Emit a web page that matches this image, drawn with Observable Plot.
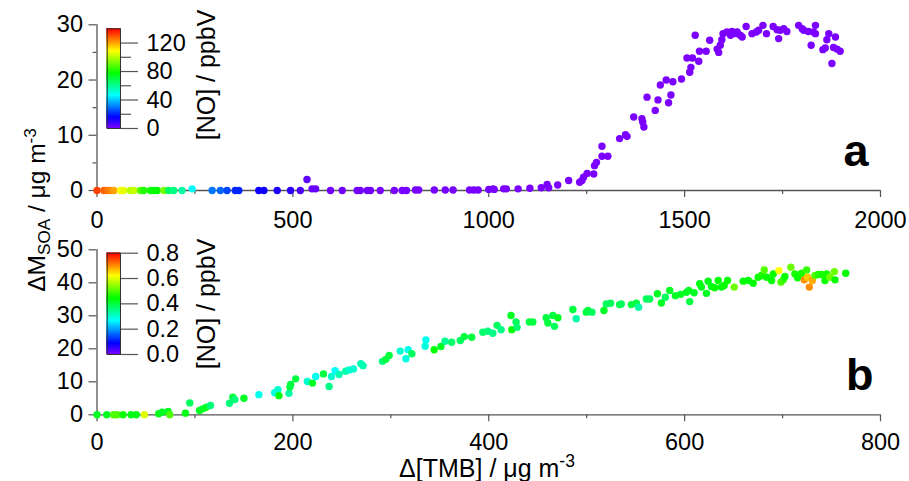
<!DOCTYPE html>
<html><head><meta charset="utf-8">
<script src="https://cdn.jsdelivr.net/npm/d3@7"></script>
<script src="https://cdn.jsdelivr.net/npm/@observablehq/plot@0.6"></script>
<style>
body{margin:0;background:#fff;}
#wrap{position:relative;width:909px;height:481px;font-family:"Liberation Sans",Arial,sans-serif;color:#000;overflow:hidden;background:#fff}
#wrap svg{position:absolute;left:0;top:0}
.lab{position:absolute;white-space:nowrap;font-size:25px;line-height:0.9;transform-origin:center center}
.sub{position:relative;top:0.28em;font-size:0.7em}
.sup{position:relative;top:-0.55em;font-size:0.7em}
</style></head><body><div id="wrap"></div>
<script>
// ---------- Panel a data ----------
const tmbA = [0,17.5,26,34.5,43,60,68,85.5,94,111,119.5,136.5,145,153.6,170.6,183,196,217,243,294,315,332,353,362,413,426,460,494,519,536,549,558,
596,626,664,672,690,698,723,759,779,790,813,821,861,889,909,951,962,973,1000,1011,1014,1038,1045,1075,1105,1134,1149,1153,1176,1204,1232,1238,1242,1251,1268,1270,1275,1289,1289,1304,1334,1349,1353,1370,1391,1393,1396,1404,1425,1432,1438,1453,1459,1465,1470,1492,1506,1513,1516,1520,1527,1536,1538,1555,1564,1583,1587,1591,1595,1598,1608,1617,1621,1629,1634,1642,1647,1657,1672,1683,1689,1700,1709,1726,1736,1740,1744,1753,1761,1791,1800,1804,1816,1823,1829,1834,1834,1853,1859,1863,1868,1876,1880,1885,1889,1897];
const soaA = [0,0,0,0,0,0,0,0,0,0,0,0,0,0,0,0,0,0,0.3,0,0,0,0,0,0,0,0,0,0,2.0,0.3,0.3,
0,0,0,0,0,0,0,0,0,0,0.1,0.1,0.1,0.1,0.1,0.1,0.1,0.1,0.2,0.3,0.2,0.3,0.3,0.3,0.4,0.5,1.1,0.5,1.0,1.8,1.5,1.8,2.4,3.1,3.0,4.5,5.1,8.0,6.2,6.2,9.4,10.1,9.8,13.3,13.0,12.4,11.5,16.9,14.5,16.4,19.1,20.0,15.9,17.3,19.7,20.2,24.0,21.4,22.3,24.0,28.1,23.4,25.2,25.2,27.2,25.6,25.0,26.3,27.3,28.4,28.7,28.1,28.8,28.4,28.7,28.1,27.8,29.7,28.4,28.7,29.0,29.9,28.4,29.7,29.1,27.5,29.0,29.3,28.8,29.9,29.3,29.0,28.8,26.3,28.7,29.9,28.4,25.5,25.8,27.3,28.4,23.0,25.9,27.8,25.6,25.2];
const noA = [132,128,126,124,120,108,106,100,102,88,82,80,78,78,92,66,62,58,47,30,28,24,20,20,14,14,12,10,6,4,3,3,
1.5,1.5,1.5,1.5,1.5,1.5,1,1,1,1,1,1,1,1,1,1,1,1,1,0.5,0.5,0.5,0.5,0.5,0.5,0.5,0.5,0.5,0.5,0.5,0.5,0.5,0.5,0.5,0.5,0.5,0.5,0.5,0.5,0.5,0.5,0.5,0.5,0.5,0.5,0.5,0.5,0.5,0.5,0.5,0.5,0.5,0.5,0.5,0.5,0.5,0.5,0.5,0.5,0.5,0.5,0.5,0.5,0.5,0.5,0.5,0.5,0.5,0.5,0.5,0.5,0.5,0.5,0.5,0.5,0.5,0.5,0.5,0.5,0.5,0.5,0.5,0.5,0.5,0.5,0.5,0.5,0.5,0.5,0.5,0.5,0.5,0.5,0.5,0.5,0.5,0.5,0.5,0.5,0.5,0.5,0.5,0.5,0.5,0.5,0.5];

// ---------- Panel b data ----------
const tmbB = [0,10,17,20.5,26.6,34.8,40.2,48.4,63,66.5,72.6,74.3,90.3,94.7,104.7,108,111.5,115.9,135.3,138.7,140.8,150,165.3,181.4,184.8,185.8,196,197.7,197,202.9,214.8,220,223.3,231.2,237,239.4,243.1,247.2,254,257.4,261.9,269.4,271.7,291.5,294.9,298.3,309.6,315.4,317.7,321.5,335.8,335.1,344.3,351.2,355.3,362.1,370.9,375,382.6,393.9,399,404.1,408.5,412.6,422.8,423.5,427.9,428.9,441.5,445,458.6,460.4,465.5,467.1,470.6,485.9,489.3,499.5,501.3,505.4,517.6,520,524.4,533.6,535.3,545.6,550.7,553,560.9,564.3,572.2,576.3,580.3,584.8,590.6,596,601.8,604.2,605.2,609.7,615.4,617.2,622.3,624,627.4,630.8,634.3,637.6,640.4,643.8,650.6,659.8,665,670,675.2,678.6,681.3,683.7,688.8,690.5,696.3,698.3,700.7,702.4,708.5,712.6,715.4,719.5,722.2,724.6,725.6,727.3,730.4,733.1,736.6,739.9,743.3,745.1,748.4,752.9,753.6,764.5];
const soaB = [0,0,0,0,0,0,0,0,0.3,0.8,1.0,0,0.5,3.6,1.3,1.8,2.3,2.8,3.5,5.3,4.6,5.0,6.1,6.7,7.6,5.8,6.5,9.2,8.4,10.9,10.1,9.6,11.6,12.4,8.6,11.6,13.4,12.2,13.2,13.6,13.9,15.5,14.9,16.2,16.8,18.0,19.3,17.0,19.7,18.5,22.7,20.8,19.7,20.7,22.3,22.0,22.5,23.7,23.5,25.0,25.3,24.7,27.1,25.8,30.1,25.8,28.1,26.5,28.1,28.1,29.4,27.8,30.1,26.8,29.4,31.9,29.1,31.1,31.6,31.1,31.6,33.6,33.8,33.4,33.6,33.4,33.8,32.6,35.1,35.1,36.7,33.9,35.6,37.7,36.1,36.5,37.1,37.7,34.3,37.0,39.7,38.7,36.8,40.5,38.9,38.5,40.7,38.7,39.2,40.7,38.7,40.5,40.7,39.9,41.7,42.2,43.9,41.7,40.7,42.7,43.7,40.2,40.9,41.9,44.7,42.7,41.5,42.9,40.9,43.9,41.7,38.7,40.7,42.2,42.5,42.5,40.7,42.7,41.7,43.4,40.9,42.9];
const noB = [0.42,0.42,0.5,0.5,0.45,0.43,0.43,0.6,0.43,0.42,0.42,0.5,0.43,0.38,0.42,0.42,0.42,0.36,0.36,0.4,0.36,0.42,0.28,0.29,0.3,0.43,0.33,0.4,0.4,0.4,0.3,0.42,0.28,0.4,0.35,0.3,0.27,0.32,0.33,0.3,0.3,0.32,0.32,0.36,0.4,0.4,0.3,0.29,0.28,0.38,0.28,0.29,0.44,0.42,0.34,0.37,0.38,0.4,0.4,0.37,0.36,0.35,0.38,0.35,0.42,0.44,0.38,0.37,0.4,0.4,0.4,0.4,0.4,0.38,0.42,0.4,0.33,0.4,0.4,0.38,0.42,0.38,0.38,0.4,0.38,0.4,0.4,0.33,0.38,0.38,0.42,0.42,0.38,0.42,0.42,0.42,0.42,0.42,0.4,0.42,0.43,0.43,0.42,0.43,0.43,0.44,0.44,0.44,0.45,0.45,0.52,0.44,0.44,0.44,0.45,0.46,0.5,0.45,0.44,0.45,0.62,0.5,0.48,0.45,0.52,0.46,0.45,0.46,0.7,0.48,0.66,0.7,0.68,0.5,0.47,0.46,0.45,0.46,0.52,0.52,0.45,0.44];

// ---------- ticks ----------
const xTicksA = [0,500,1000,1500,2000], xMinorA = [250,750,1250,1750];
const yTicksA = [0,10,20,30], yMinorA = [5,15,25];
const xTicksB = [0,200,400,600,800], xMinorB = [100,300,500,700];
const yTicksB = [0,10,20,30,40,50];
const cbTicksA = [0,40,80,120], cbMinorA = [20,60,100];
const cbTicksB = [0,0.2,0.4,0.6,0.8];
const noDomainA = [0,140], noDomainB = [0,0.8];

const dataA = tmbA.map((x,i)=>({x, y:soaA[i], c:noA[i]}));
const dataB = tmbB.map((x,i)=>({x, y:soaB[i], c:noB[i]}));

const rainbow = t => d3.hsl(270*(1-t), 1, 0.5).formatHex();
const FONT = '"Liberation Sans", Arial, sans-serif';
const AX = "#555";
const INT = d3.format("d");
const baseStyle = {background:"transparent", fontFamily:FONT, fontSize:"23.5px", color:"#000", overflow:"visible"};

function panel(data, o){
  return Plot.plot({
    width:909, height:481,
    marginLeft:96.5, marginRight:29, marginTop:o.top, marginBottom:o.bottom,
    style: baseStyle,
    x:{domain:o.xd}, y:{domain:o.yd},
    color:{type:"linear", domain:o.cd, interpolate:rainbow},
    marks:[
      Plot.axisX({ticks:o.xt, tickSize:7, tickPadding:o.xpad, tickFormat:INT, label:null, fontSize:23.5, stroke:AX, strokeWidth:1.2}),
      Plot.axisX({ticks:o.xm, tickSize:4, tickFormat:()=>"", label:null, stroke:AX, strokeWidth:1.2}),
      Plot.axisY({ticks:o.yt, tickSize:8, tickPadding:6, tickFormat:INT, label:null, fontSize:23.5, stroke:AX, strokeWidth:1.2}),
      ...(o.ym ? [Plot.axisY({ticks:o.ym, tickSize:4, tickFormat:()=>"", label:null, stroke:AX, strokeWidth:1.2})] : []),
      Plot.ruleY([0], {stroke:AX, strokeWidth:1.3}),
      Plot.ruleX([0], {stroke:AX, strokeWidth:1.3}),
      Plot.dot(data, {x:"x", y:"y", fill:"c", r:3.7, stroke:null}),
      Plot.text([o.letter], {frameAnchor:"bottom-right", dx:o.ldx, dy:o.ldy, fontSize:45, fontWeight:"bold", textAnchor:"end", lineAnchor:"bottom", fill:"#000"})
    ]
  });
}

function colorbar(o){
  const n = 200, step = (o.cd[1]-o.cd[0])/n;
  const ramp = d3.range(n).map(i => o.cd[0] + i*step);
  return Plot.plot({
    width:909, height:481,
    marginLeft:106.7, marginRight:789, marginTop:o.top, marginBottom:o.bottom,
    style: baseStyle,
    x:{domain:[0,1], axis:null}, y:{domain:o.cd},
    color:{type:"linear", domain:o.cd, interpolate:rainbow},
    marks:[
      Plot.rect(ramp, {x1:()=>0, x2:()=>1, y1:d=>d, y2:d=>d+step, fill:d=>d+step/2, stroke:d=>d+step/2, strokeWidth:0.6}),
      Plot.frame({stroke:"#333", strokeWidth:1}),
      Plot.axisY({anchor:"right", ticks:o.t, tickSize:17, tickPadding:9, tickFormat:o.fmt, label:null, fontSize:23.5, stroke:AX, strokeWidth:1.2}),
      ...(o.m ? [Plot.axisY({anchor:"right", ticks:o.m, tickSize:10, tickFormat:()=>"", label:null, stroke:AX, strokeWidth:1.2})] : [])
    ]
  });
}

const wrap = document.getElementById("wrap");
wrap.append(panel(dataA, {top:24.3, bottom:291, xd:[0,2000], yd:[0,30], cd:noDomainA, xt:xTicksA, xm:xMinorA, yt:yTicksA, ym:yMinorA, xpad:13.5, letter:"a", ldx:-12, ldy:-25}));
wrap.append(panel(dataB, {top:249.3, bottom:66.7, xd:[0,800], yd:[0,50], cd:noDomainB, xt:xTicksB, xm:xMinorB, yt:yTicksB, ym:null, xpad:11.5, letter:"b", ldx:-7, ldy:-25}));
wrap.append(colorbar({top:28.3, bottom:353, cd:noDomainA, t:cbTicksA, m:cbMinorA, fmt:INT}));
wrap.append(colorbar({top:252.7, bottom:127, cd:noDomainB, t:cbTicksB, m:null, fmt:d3.format(".1f")}));

function label(html, cx, cy, rot, size){
  const d = document.createElement("div");
  d.className = "lab";
  d.innerHTML = html;
  if (size) d.style.fontSize = size + "px";
  d.style.left = cx + "px";
  d.style.top = cy + "px";
  d.style.transform = "translate(-50%,-50%)" + (rot ? " rotate(-90deg)" : "");
  wrap.append(d);
}
label('\u0394M<span class="sub">SOA</span> / \u03bcg m<span class="sup">-3</span>', 36.8, 210, true, 24.5);
label('\u0394[TMB] / \u03bcg m<span class="sup">-3</span>', 487, 468, false);
label('[NO] / ppbV', 206.3, 75, true);
label('[NO] / ppbV', 205.5, 303.5, true);
</script></body></html>
